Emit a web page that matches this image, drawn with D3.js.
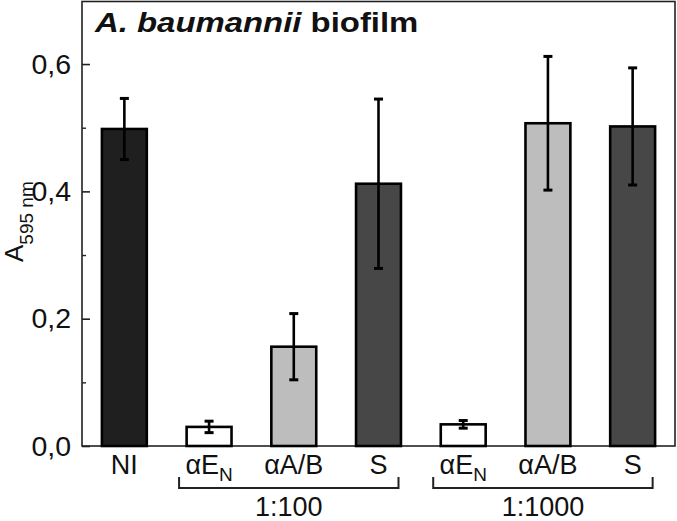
<!DOCTYPE html>
<html>
<head>
<meta charset="utf-8">
<script src="https://cdn.jsdelivr.net/npm/d3@7"></script>
<style>
  html, body { margin: 0; padding: 0; background: #fff; }
  svg { display: block; }
  text { font-family: "Liberation Sans", Arial, sans-serif; fill: #111; }
</style>
</head>
<body>
<script>
// ---- data ----
const barIds      = ["NI", "EN_100", "AB_100", "S_100", "EN_1000", "AB_1000", "S_1000"];
const barLabels   = ["NI", "αE|N", "αA/B", "S", "αE|N", "αA/B", "S"];
const barKinds    = ["NI", "EN", "AB", "S", "EN", "AB", "S"];
const barValues   = [0.498, 0.030, 0.156, 0.412, 0.034, 0.507, 0.502];
const barErrors   = [0.048, 0.009, 0.052, 0.133, 0.006, 0.105, 0.092];
const groupNames  = ["1:100", "1:1000"];
const groupFirst  = ["EN_100", "EN_1000"];
const groupLast   = ["S_100", "S_1000"];
const yTicks      = [0, 0.2, 0.4, 0.6];
const yTickLabels = ["0,0", "0,2", "0,4", "0,6"];
const yMinorTicks = [0.1, 0.3, 0.5];
const kindColors  = { NI: "#1f1f1f", EN: "#ffffff", AB: "#bdbdbd", S: "#474747" };

(function () {
const W = 677, H = 521;
const mLeft = 82, mRight = 675, mTop = 1.5, mBottom = 446;

const svg = d3.select("body").append("svg").attr("width", W).attr("height", H);

const x = d3.scaleBand().domain(barIds).range([mLeft, mRight])
  .paddingInner(0.47).paddingOuter(0.235);
const y = d3.scaleLinear().domain([0, 0.7]).range([mBottom, 0.4]);

// frame
svg.append("rect")
  .attr("x", mLeft).attr("y", mTop)
  .attr("width", mRight - mLeft).attr("height", mBottom - mTop)
  .attr("fill", "none").attr("stroke", "#222").attr("stroke-width", 1.6);

// y axis major ticks (inward)
const yAxis = d3.axisLeft(y).tickValues(yTicks).tickSize(-8)
  .tickFormat((d, i) => yTickLabels[i]).tickPadding(11);
const ya = svg.append("g").attr("transform", `translate(${mLeft},0)`).call(yAxis);
ya.select(".domain").remove();
ya.selectAll(".tick line").attr("stroke", "#222").attr("stroke-width", 1.6);
ya.selectAll(".tick text")
  .attr("font-size", 28.5).attr("fill", "#111")
  .style("font-family", "'Liberation Sans', Arial, sans-serif");

// minor ticks
const yMinor = d3.axisLeft(y).tickValues(yMinorTicks).tickSize(-4).tickFormat("");
const ym = svg.append("g").attr("transform", `translate(${mLeft},0)`).call(yMinor);
ym.select(".domain").remove();
ym.selectAll(".tick line").attr("stroke", "#222").attr("stroke-width", 1.4);

// y label
const yl = svg.append("text")
  .attr("transform", "translate(23,262) rotate(-90)")
  .attr("text-anchor", "start");
yl.append("tspan").attr("font-size", 26).text("A");
yl.append("tspan").attr("font-size", 19).attr("dy", 10).text("595 nm");

// bars
const bw = x.bandwidth();
svg.append("g").selectAll("rect").data(barIds).join("rect")
  .attr("x", d => x(d))
  .attr("y", (d, i) => y(barValues[i]))
  .attr("width", bw)
  .attr("height", (d, i) => y(0) - y(barValues[i]))
  .attr("fill", (d, i) => kindColors[barKinds[i]])
  .attr("stroke", "#000").attr("stroke-width", 2.6);

// error bars
const eg = svg.append("g").attr("stroke", "#000");
barIds.forEach((id, i) => {
  const cx = x(id) + bw / 2;
  const yHi = y(barValues[i] + barErrors[i]);
  const yLo = y(barValues[i] - barErrors[i]);
  eg.append("line").attr("x1", cx).attr("x2", cx).attr("y1", yHi).attr("y2", yLo).attr("stroke-width", 2.6);
  [yHi, yLo].forEach(yy => {
    eg.append("line").attr("x1", cx - 4.5).attr("x2", cx + 4.5).attr("y1", yy).attr("y2", yy).attr("stroke-width", 3);
  });
});

// category labels
barIds.forEach((id, i) => {
  const cx = x(id) + bw / 2;
  const t = svg.append("text").attr("x", cx).attr("y", 474)
    .attr("text-anchor", "middle").attr("font-size", 27);
  const parts = barLabels[i].split("|");
  t.append("tspan").text(parts[0]);
  if (parts[1]) t.append("tspan").attr("font-size", 19).attr("dy", 7).text(parts[1]);
});

// group brackets
groupNames.forEach((name, gi) => {
  const x1 = x(groupFirst[gi]) + bw / 2 - 30;
  const x2 = x(groupLast[gi]) + bw / 2 + 20;
  svg.append("path")
    .attr("d", `M${x1},477 V488 H${x2} V477`)
    .attr("fill", "none").attr("stroke", "#222").attr("stroke-width", 2);
  svg.append("text")
    .attr("x", (x1 + x2) / 2).attr("y", 516)
    .attr("text-anchor", "middle").attr("font-size", 27)
    .text(name);
});

// title
const tg = svg.append("g").attr("transform", "translate(95,32) scale(1.175,1)");
const tt = tg.append("text").attr("font-size", 28).attr("font-weight", "bold").attr("fill", "#111");
tt.append("tspan").attr("font-style", "italic").text("A. baumannii");
tt.append("tspan").text(" biofilm");
})();
</script>
</body>
</html>
